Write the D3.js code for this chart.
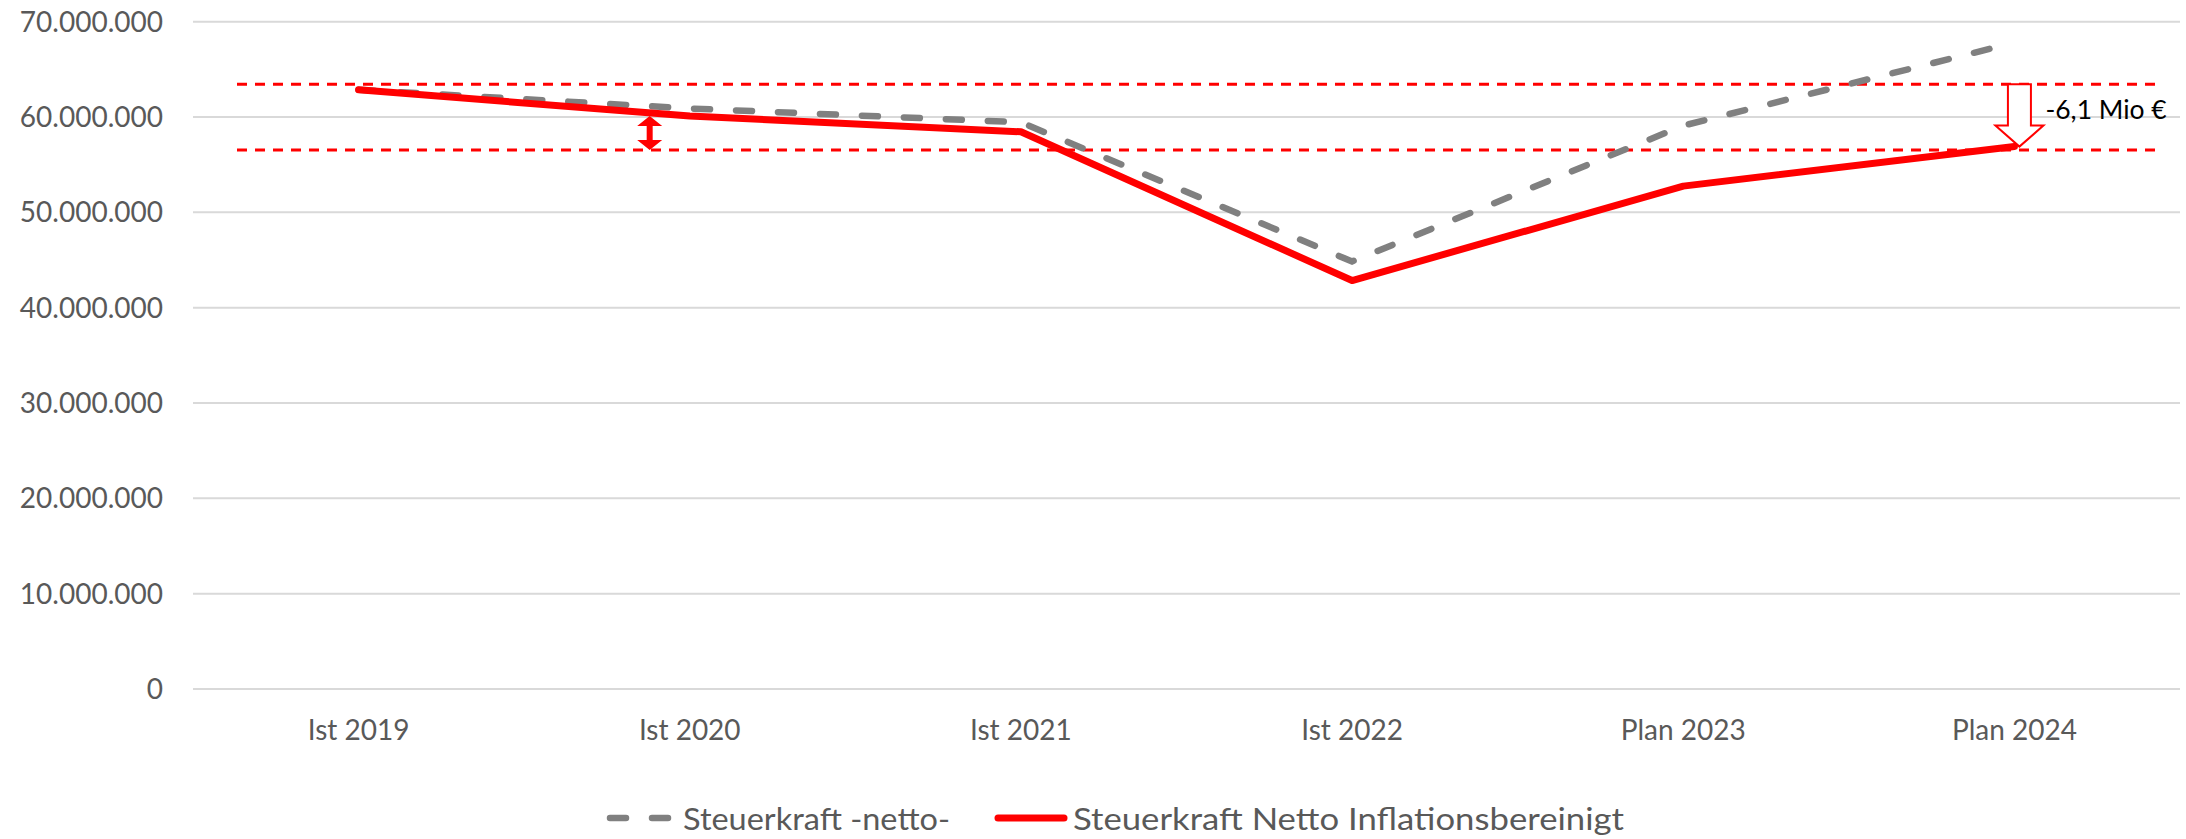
<!DOCTYPE html>
<html><head><meta charset="utf-8">
<script src="https://cdn.jsdelivr.net/npm/d3@7"></script>
<style>
html,body{margin:0;padding:0;background:#fff;}
svg{display:block;}
text{font-family:Lato,"Open Sans",sans-serif;}
</style></head>
<body><svg id="c" width="2186" height="839"></svg>
<script>
const categories = ["Ist 2019","Ist 2020","Ist 2021","Ist 2022","Plan 2023","Plan 2024"];
const steuerkraftNetto = [62850000, 60900000, 59450000, 44850000, 59100000, 67800000];
const steuerkraftInflBereinigt = [62850000, 60100000, 58450000, 42850000, 52750000, 56900000];
const yTicks = [0,10000000,20000000,30000000,40000000,50000000,60000000,70000000];
const refLines = [63450000, 56550000];
const seriesNames = ["Steuerkraft -netto-","Steuerkraft Netto Inflationsbereinigt"];
const annotationText = "-6,1 Mio €";

(function(){
const svg = d3.select("#c");
const pLeft = 193, pRight = 2180, pTop = 21.7, pBottom = 689;
const x = d3.scalePoint().domain(categories).range([pLeft, pRight]).padding(0.5);
const bw = x.step();
const y = d3.scaleLinear().domain([0, 70000000]).range([pBottom, pTop]);
const de = d3.formatLocale({decimal:",", thousands:".", grouping:[3], currency:["","€"]});
const fmt = de.format(",d");

// gridlines
svg.append("g").selectAll("line").data(yTicks).join("line")
  .attr("x1", pLeft).attr("x2", pRight)
  .attr("y1", d=>y(d)).attr("y2", d=>y(d))
  .attr("stroke", "#d9d9d9").attr("stroke-width", 2);

// y labels
svg.append("g").selectAll("text").data(yTicks).join("text")
  .attr("x", 163).attr("y", d=>y(d)+10)
  .attr("text-anchor","end").attr("font-size", 28).attr("fill","#595959")
  .text(d=>fmt(d));

// x labels
svg.append("g").selectAll("text").data(categories).join("text")
  .attr("x", d=>x(d)).attr("y", 740)
  .attr("text-anchor","middle").attr("font-size", 28).attr("fill","#595959")
  .text(d=>d);

// reference dashed lines
svg.append("g").selectAll("line").data(refLines).join("line")
  .attr("x1", 237).attr("x2", 2163)
  .attr("y1", d=>y(d)).attr("y2", d=>y(d))
  .attr("stroke", "#ff0000").attr("stroke-width", 3)
  .attr("stroke-dasharray", "10 8");

const line = d3.line().x((d,i)=>x(categories[i])).y(d=>y(d));

svg.append("path").datum(steuerkraftNetto).attr("d", line)
  .attr("fill","none").attr("stroke","#808080").attr("stroke-width",6.5)
  .attr("stroke-linecap","round").attr("stroke-dasharray","16 26");

svg.append("path").datum(steuerkraftInflBereinigt).attr("d", line)
  .attr("fill","none").attr("stroke","#ff0000").attr("stroke-width",7)
  .attr("stroke-linecap","round").attr("stroke-linejoin","round");

// small double arrow (2020)
{
  const cx = x(categories[1]) - 0.121*bw;
  const yt = y(steuerkraftInflBereinigt[1]), yb = y(refLines[1]);
  const hw = 12.5, sw = 3, hh = 10;
  const p = [[cx,yt],[cx+hw,yt+hh],[cx+sw,yt+hh],[cx+sw,yb-hh],[cx+hw,yb-hh],[cx,yb],
             [cx-hw,yb-hh],[cx-sw,yb-hh],[cx-sw,yt+hh],[cx-hw,yt+hh]];
  svg.append("path").attr("d", d3.line()(p)+"Z").attr("fill","#ff0000");
}

// big hollow arrow (2024)
{
  const cx = x(categories[5]) + 5;
  const yt = y(refLines[0]) , yb = y(steuerkraftInflBereinigt[5]);
  const hw = 24, sw = 11.5, hh = 21;
  const p = [[cx-sw,yt],[cx+sw,yt],[cx+sw,yb-hh],[cx+hw,yb-hh],[cx,yb],[cx-hw,yb-hh],[cx-sw,yb-hh]];
  svg.append("path").attr("d", d3.line()(p)+"Z").attr("fill","#fff")
    .attr("stroke","#ff0000").attr("stroke-width",2);
  svg.append("text").attr("x", cx+26).attr("y", 119)
    .attr("font-size", 26.5).attr("fill","#000").text(annotationText);
}

// legend
{
  const g = svg.append("g");
  g.append("line").attr("x1",610).attr("x2",670).attr("y1",818).attr("y2",818)
    .attr("stroke","#808080").attr("stroke-width",6.5).attr("stroke-linecap","round")
    .attr("stroke-dasharray","16 26");
  g.append("text").attr("x",683).attr("y",830).attr("font-size",31).attr("fill","#595959")
    .attr("textLength", 267).attr("lengthAdjust","spacingAndGlyphs").text(seriesNames[0]);
  g.append("line").attr("x1",998).attr("x2",1064).attr("y1",818).attr("y2",818)
    .attr("stroke","#ff0000").attr("stroke-width",7).attr("stroke-linecap","round");
  g.append("text").attr("x",1073).attr("y",830).attr("font-size",31).attr("fill","#595959")
    .attr("textLength", 551).attr("lengthAdjust","spacingAndGlyphs").text(seriesNames[1]);
}
})();
</script></body></html>
